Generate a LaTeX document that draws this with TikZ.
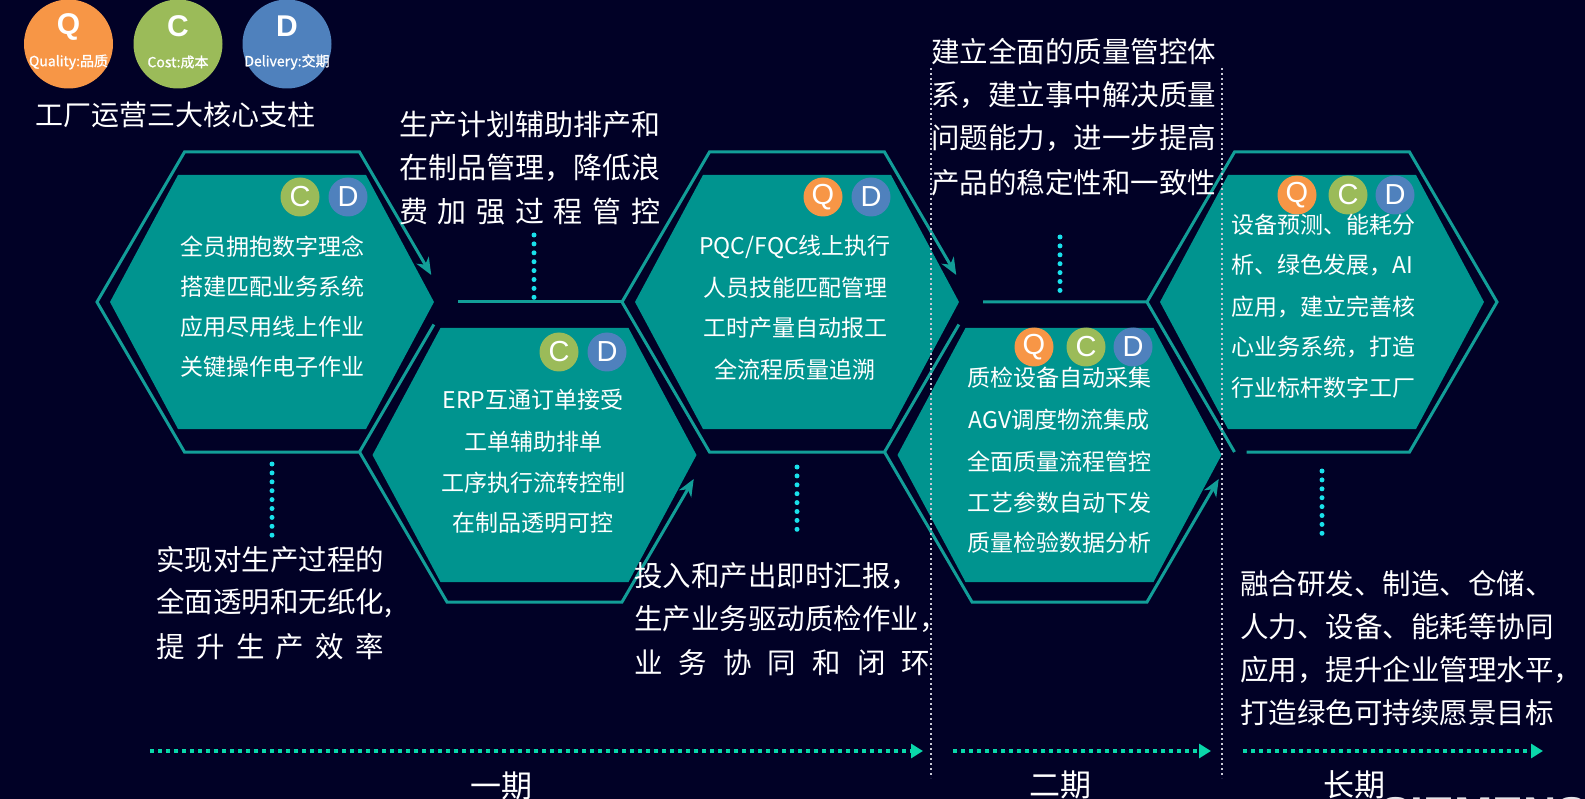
\documentclass[tikz,border=0pt]{standalone}
\usepackage{fontspec}
\setmainfont{Noto Sans CJK SC}
\newfontfamily\lsf{Liberation Sans}
\newfontfamily\cjkb[FakeBold=1]{Noto Sans CJK SC}
\usetikzlibrary{arrows.meta,calc}
\definecolor{bgc}{RGB}{1,1,38}
\definecolor{tealfill}{RGB}{0,148,143}
\definecolor{tealline}{RGB}{18,158,152}
\definecolor{qcol}{RGB}{247,150,70}
\definecolor{ccol}{RGB}{155,187,89}
\definecolor{dcol}{RGB}{79,129,189}
\definecolor{dotcyan}{RGB}{25,225,235}
\definecolor{dotgreen}{RGB}{10,215,170}
\definecolor{sepgray}{RGB}{200,200,215}
\newcommand{\spreadtext}[2]{\makebox[#1][s]{#2}}
\begin{document}
\begin{tikzpicture}[x=1pt,y=-1pt,
  outl/.style={draw=tealline,line width=3pt,line join=miter},
  tipb/.style={outl,{Stealth[length=17pt,width=14pt,inset=5pt]}-{Stealth[length=17pt,width=14pt,inset=5pt]}},
  innerhex/.style={fill=tealfill},
  hextxt/.style={text=white,font=\fontsize{23}{23}\selectfont,inner sep=0pt},
  hextxtl/.style={hextxt,anchor=west},
  ann/.style={text=white,font=\fontsize{28.5}{28.5}\selectfont,inner sep=0pt,anchor=west},
  annb/.style={text=white,font=\fontsize{29}{29}\selectfont,inner sep=0pt,anchor=west},
  badge/.style={circle,minimum size=39pt,inner sep=0pt,text=white,font=\lsf\fontsize{29}{29}\selectfont},
  legc/.style={circle,minimum size=89pt,inner sep=0pt},
  legl/.style={text=white,inner sep=0pt,font=\lsf\bfseries\fontsize{30}{30}\selectfont},
  legs/.style={text=white,inner sep=0pt,font=\cjkb\fontsize{14}{14}\selectfont},
  cyandots/.style={dotcyan,line width=5pt,line cap=round,dash pattern=on 0pt off 8.9pt},
  sepline/.style={sepgray,line width=2pt,dash pattern=on 2pt off 3pt},
  phase/.style={dotgreen,line width=4pt,dash pattern=on 3.5pt off 4.5pt,-{Triangle[length=12pt,width=14pt]}},
  phasetxt/.style={text=white,inner sep=0pt,font=\fontsize{31}{31}\selectfont}
]
\useasboundingbox (0,0) rectangle (1585,799);
\fill[bgc] (0,0) rectangle (1585,799);

% inner filled hexagons
\foreach \cx/\cy in {272/302, 534.5/455, 797/302, 1059.5/455, 1322/302} {
  \fill[innerhex] (\cx-162,\cy) -- ++(68,-127) -- ++(188,0) -- ++(68,127) -- ++(-68,127) -- ++(-188,0) -- cycle;
}

% outline vertices
\foreach \n/\cx/\cy in {1/272/302, 2/534.5/452, 3/797/302, 4/1059.5/452, 5/1322/302} {
  \coordinate (L\n) at (\cx-175,\cy);
  \coordinate (TL\n) at (\cx-87.5,\cy-150);
  \coordinate (TR\n) at (\cx+87.5,\cy-150);
  \coordinate (R\n) at (\cx+175,\cy);
  \coordinate (BR\n) at (\cx+87.5,\cy+150);
  \coordinate (BL\n) at (\cx-87.5,\cy+150);
}
\coordinate (tip1) at ($(TR1)!0.82!(R1)$);
\coordinate (tip2) at ($(BR2)!0.82!(R2)$);
\coordinate (tip3) at ($(TR3)!0.82!(R3)$);
\coordinate (tip4) at ($(BR4)!0.82!(R4)$);

% outlines
\draw[tipb] (tip2) -- (BR2) -- (BL2) -- (L2) -- (BL1) -- (L1) -- (TL1) -- (TR1) -- (tip1);
\draw[outl] (L2) -- ($(L2)!0.85!(TL2)$);
\draw[outl] ($(TL2)+(11,0)$) -- (L3);
\draw[tipb] (tip4) -- (BR4) -- (BL4) -- (L4) -- (BL3) -- (L3) -- (TL3) -- (TR3) -- (tip3);
\draw[outl] (L4) -- ($(L4)!0.85!(TL4)$);
\draw[outl] ($(TL4)+(11,0)$) -- (L5) -- (TL5) -- (TR5) -- (R5) -- (BR5) -- ($(BL5)+(12,0)$);
\draw[outl] (L5) -- (BL5);

% badges
\node[badge,fill=ccol] (b1c) at (300,197) {C};
\node[badge,fill=dcol] (b1d) at (348,197) {D};
\node[badge,fill=ccol] (b2c) at (559,352) {C};
\node[badge,fill=dcol] (b2d) at (607,352) {D};
\node[badge,fill=qcol] (b3q) at (823,197) {Q};
\node[badge,fill=dcol] (b3d) at (871,197) {D};
\node[badge,fill=qcol] (b4q) at (1034,347) {Q};
\node[badge,fill=ccol] (b4c) at (1086,347) {C};
\node[badge,fill=dcol] (b4d) at (1133,347) {D};
\node[badge,fill=qcol] (b5q) at (1297,195) {Q};
\node[badge,fill=ccol] (b5c) at (1348,195) {C};
\node[badge,fill=dcol] (b5d) at (1395,195) {D};

% hexagon texts
\node[hextxt] (h1a) at (272,247) {全员拥抱数字理念};
\node[hextxt] (h1b) at (272,287) {搭建匹配业务系统};
\node[hextxt] (h1c) at (272,327) {应用尽用线上作业};
\node[hextxt] (h1d) at (272,367) {关键操作电子作业};

\node[hextxt] (h2a) at (533,400) {ERP互通订单接受};
\node[hextxt] (h2b) at (533,442) {工单辅助排单};
\node[hextxt] (h2c) at (533,483) {工序执行流转控制};
\node[hextxt] (h2d) at (533,523) {在制品透明可控};

\node[hextxt] (h3a) at (795,247) {PQC/FQC线上执行};
\node[hextxt] (h3b) at (795,288) {人员技能匹配管理};
\node[hextxt] (h3c) at (795,328) {工时产量自动报工};
\node[hextxt] (h3d) at (795,370) {全流程质量追溯};

\node[hextxt] (h4a) at (1059,378) {质检设备自动采集};
\node[hextxt] (h4b) at (1059,420) {AGV调度物流集成};
\node[hextxt] (h4c) at (1059,462) {全面质量流程管控};
\node[hextxt] (h4d) at (1059,503) {工艺参数自动下发};
\node[hextxt] (h4e) at (1059,543) {质量检验数据分析};

\node[hextxtl] (h5a) at (1231,225) {设备预测、能耗分};
\node[hextxtl] (h5b) at (1231,265) {析、绿色发展，AI};
\node[hextxtl] (h5c) at (1231,307) {应用，建立完善核};
\node[hextxtl] (h5d) at (1231,347) {心业务系统，打造};
\node[hextxtl] (h5e) at (1231,388) {行业标杆数字工厂};

% annotation texts
\node[annb] (t2a) at (399,125) {生产计划辅助排产和};
\node[annb] (t2b) at (399,168) {在制品管理，降低浪};
\node[annb] (t2c) at (399,212) {\spreadtext{261pt}{费 加 强 过 程 管 控}};

\node[ann] (t1a) at (156,560) {实现对生产过程的};
\node[ann] (t1b) at (156,603) {全面透明和无纸化,};
\node[ann] (t1c) at (156,647) {\spreadtext{228pt}{提 升 生 产 效 率}};

\node[ann] (t3a) at (931,52) {建立全面的质量管控体};
\node[ann] (t3b) at (931,95) {系，建立事中解决质量};
\node[ann] (t3c) at (931,138) {问题能力，进一步提高};
\node[ann] (t3d) at (931,183) {产品的稳定性和一致性};

\node[ann] (t4a) at (634,576) {投入和产出即时汇报，};
\node[ann] (t4b) at (634,619) {生产业务驱动质检作业，};
\node[ann] (t4c) at (634,663) {\spreadtext{296pt}{业 务 协 同 和 闭 环}};

\node[ann] (t6a) at (1240,584) {融合研发、制造、仓储、};
\node[ann] (t6b) at (1240,627) {人力、设备、能耗等协同};
\node[ann] (t6c) at (1240,670) {应用，提升企业管理水平，};
\node[ann] (t6d) at (1240,713) {打造绿色可持续愿景目标};

% cyan dotted connectors
\draw[cyandots] (272,464) -- (272,536);
\draw[cyandots] (534,235) -- (534,298);
\draw[cyandots] (797,467) -- (797,538);
\draw[cyandots] (1060,237) -- (1060,298);
\draw[cyandots] (1322,471) -- (1322,538);

% separators
\draw[sepline] (931,68) -- (931,778);
\draw[sepline] (1222,68) -- (1222,778);

% phase arrows
\draw[phase] (150,751) -- (923,751);
\draw[phase] (953,751) -- (1211,751);
\draw[phase] (1243,751) -- (1543,751);
\node[phasetxt] (p1) at (501,786) {一期};
\node[phasetxt] (p2) at (1060,785) {二期};
\node[phasetxt] (p3) at (1354,785) {长期};

% legend
\node[legc,fill=qcol] (lq) at (68.5,44) {};
\node[legc,fill=ccol] (lc) at (178,44) {};
\node[legc,fill=dcol] (ld) at (287,44) {};
\node[legl] (lqt) at (68.5,27) {Q};
\node[legl] (lct) at (178,26) {C};
\node[legl] (ldt) at (287,26) {D};
\node[legs] (lqs) at (68.5,62) {Quality:品质};
\node[legs] (lcs) at (178,62) {Cost:成本};
\node[legs] (lds) at (287,62) {Delivery:交期};
\node[anchor=west,inner sep=0pt,text=white,font=\fontsize{28}{28}\selectfont] (title) at (35,115) {工厂运营三大核心支柱};

% cut-off logo text
\node[anchor=base west,inner sep=0pt,text={rgb,255:red,225;green,225;blue,230},font=\lsf\bfseries\fontsize{46}{46}\selectfont] (logo) at (1380,829) {SIEMENS};
\end{tikzpicture}
\end{document}
